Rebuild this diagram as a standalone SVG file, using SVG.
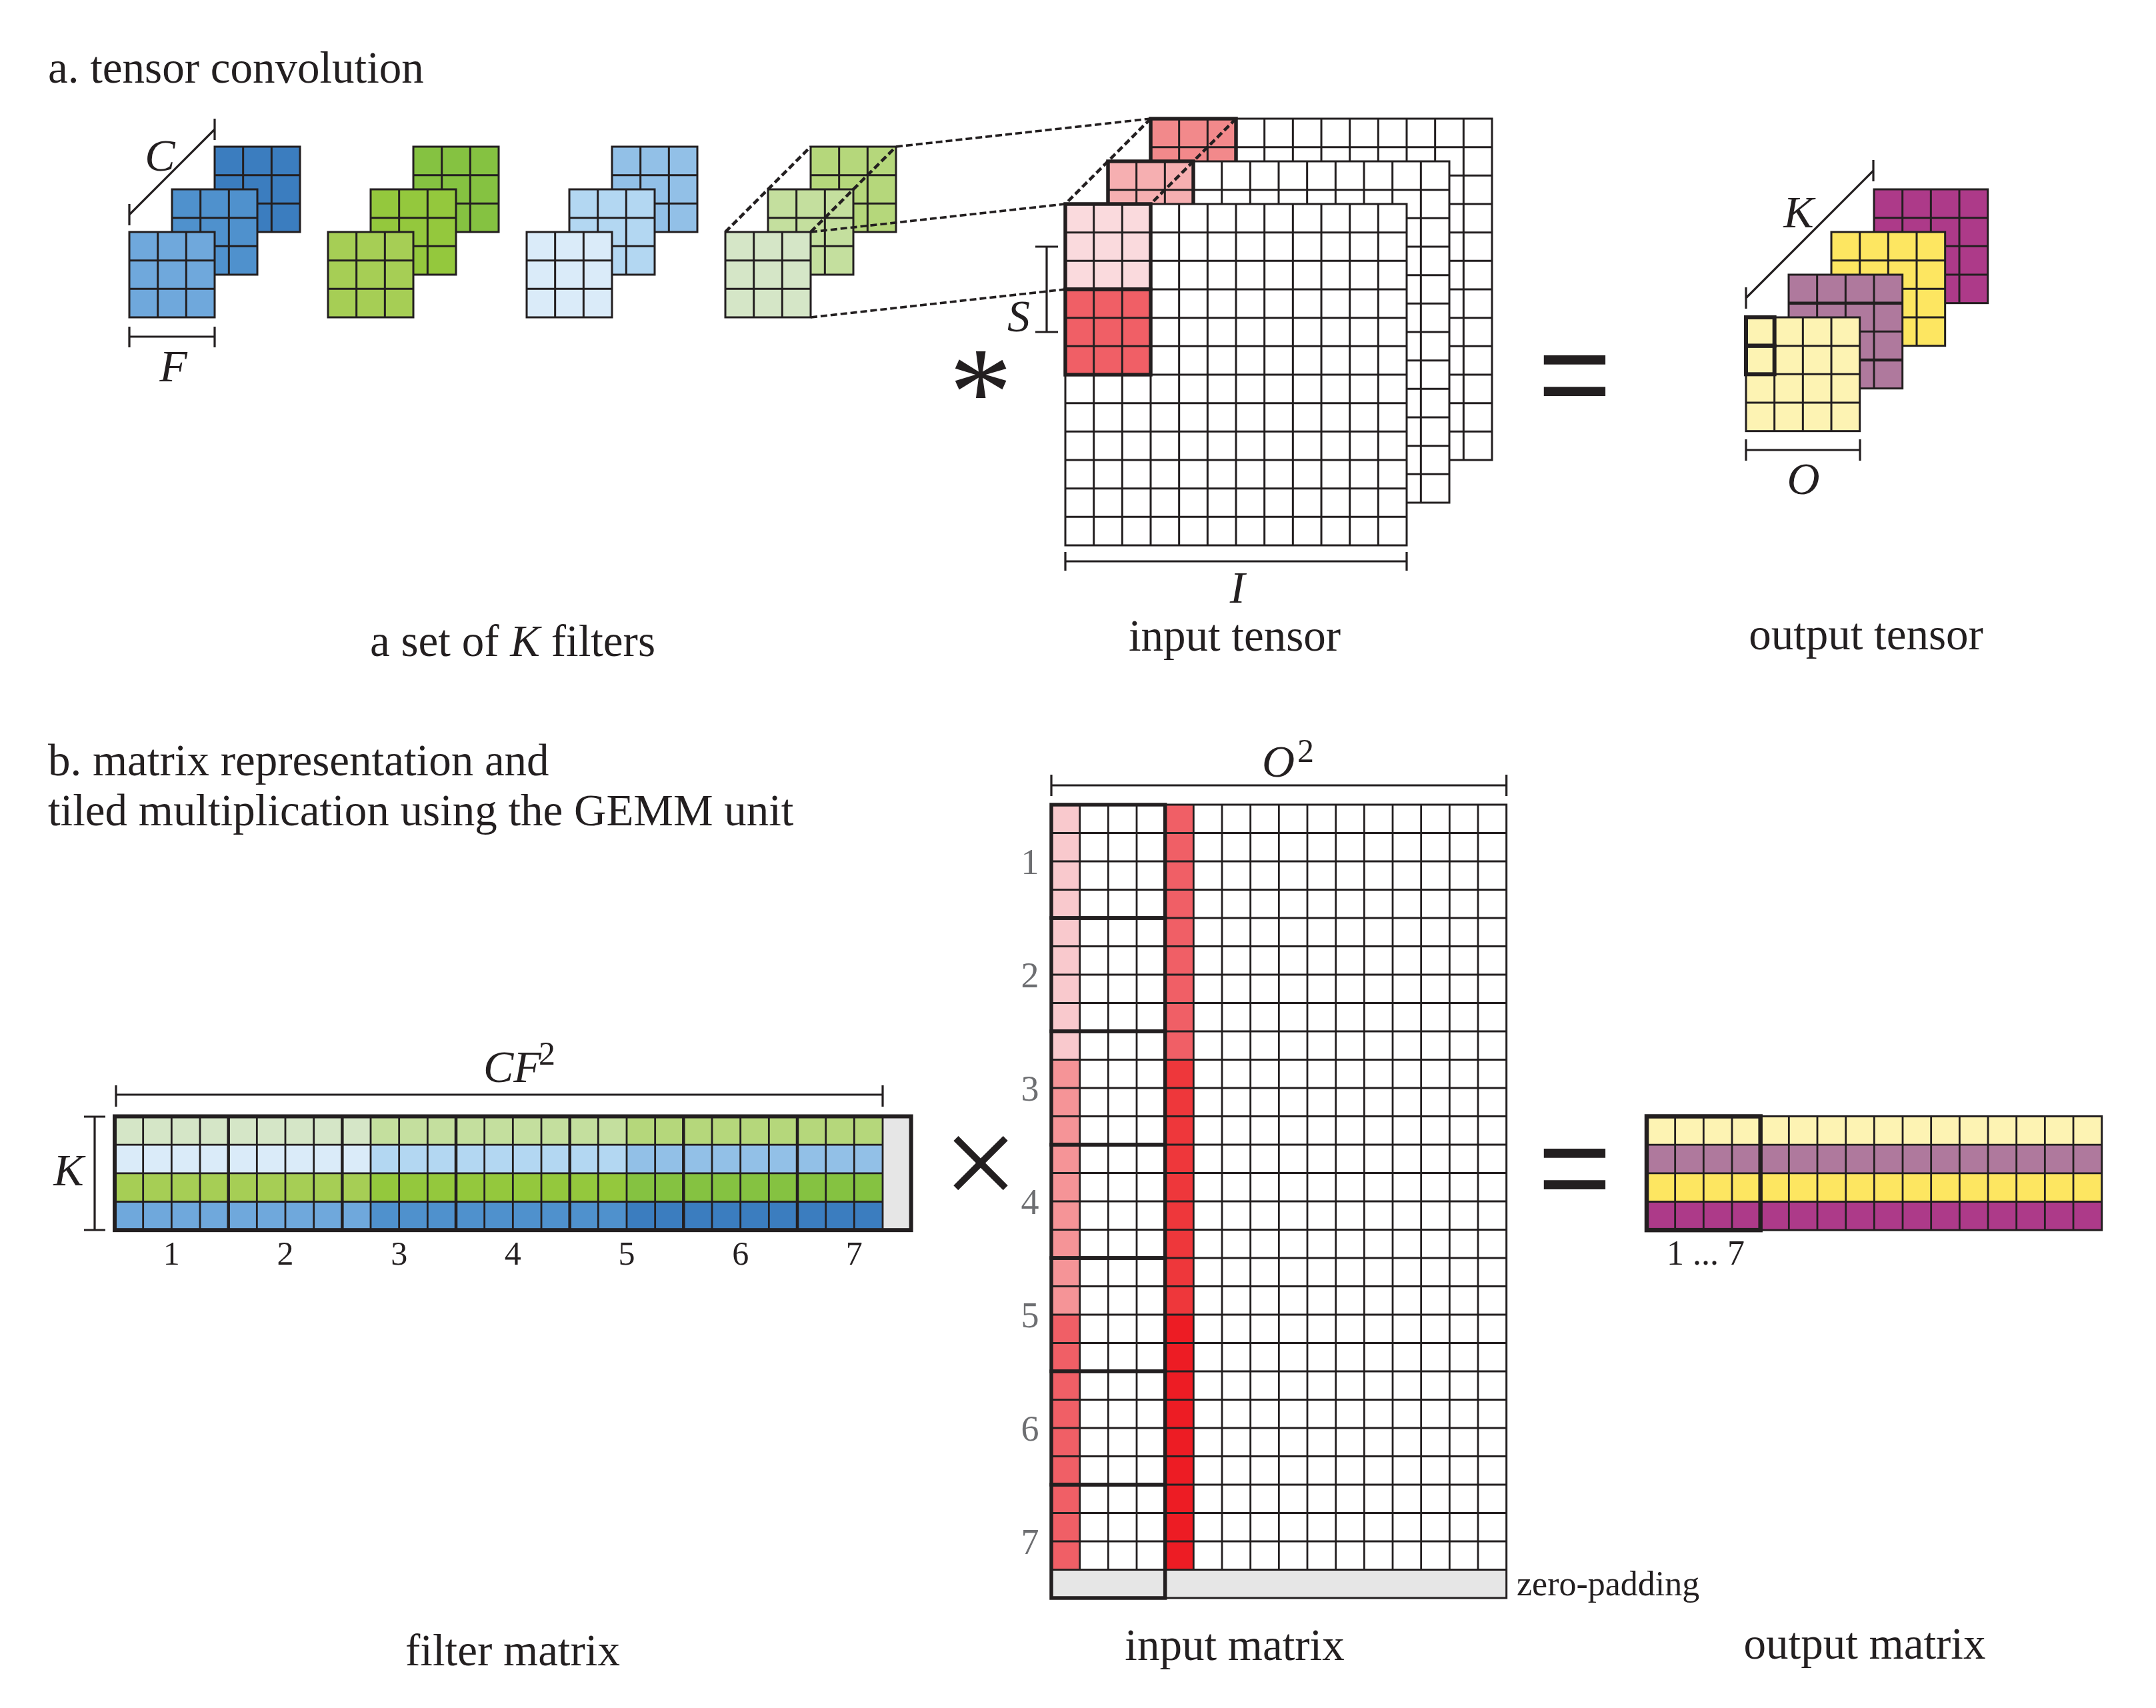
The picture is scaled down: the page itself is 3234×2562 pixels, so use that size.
<svg xmlns="http://www.w3.org/2000/svg" xmlns:xlink="http://www.w3.org/1999/xlink" width="3234" height="2562" viewBox="0 0 3234 2562">
<style>
.ln{stroke:#231f20;stroke-width:3;fill:none}
.lf{stroke:#231f20;stroke-width:3}
.tk{stroke:#231f20;stroke-width:5.5;fill:none}
.dm{stroke:#231f20;stroke-width:3.2;fill:none}
.ds{stroke:#231f20;stroke-width:4;fill:none;stroke-dasharray:10 5}
.t{font-family:"Liberation Serif","Times New Roman",serif;font-size:67px;fill:#231f20}
.it{font-style:italic;font-size:68px}
.sup{font-size:50px}
.num{font-family:"Liberation Serif","Times New Roman",serif;font-size:50px;fill:#231f20}
.rn{font-family:"Liberation Serif","Times New Roman",serif;font-size:54px;fill:#6d6e71}
.op{font-family:"Liberation Sans",Arial,sans-serif;font-size:190px;fill:#231f20}
</style>
<defs>
<path id="g3" d="M42.67 0V128M85.33 0V128M0 42.67H128M0 85.33H128"/>
<path id="g4" d="M42.67 0V170.67M85.33 0V170.67M128 0V170.67M0 42.67H170.67M0 85.33H170.67M0 128H170.67"/>
<path id="g12" d="M42.67 0V512M85.33 0V512M128 0V512M170.67 0V512M213.33 0V512M256 0V512M298.67 0V512M341.33 0V512M384 0V512M426.67 0V512M469.33 0V512M0 42.67H512M0 85.33H512M0 128H512M0 170.67H512M0 213.33H512M0 256H512M0 298.67H512M0 341.33H512M0 384H512M0 426.67H512M0 469.33H512"/>
</defs>
<rect width="3234" height="2562" fill="#ffffff"/>

<text class="t" x="72" y="124">a. tensor convolution</text>
<text class="t" x="72" y="1163">b. matrix representation and</text>
<text class="t" x="72" y="1238">tiled multiplication using the GEMM unit</text>

<!-- Filters -->
<g id="filter1">
<rect class="lf" x="322" y="220" width="128" height="128" fill="#3B7DBF"/><use href="#g3" x="322" y="220" class="ln"/>
<rect class="lf" x="258" y="284" width="128" height="128" fill="#4F91CD"/><use href="#g3" x="258" y="284" class="ln"/>
<rect class="lf" x="194" y="348" width="128" height="128" fill="#6FA8DC"/><use href="#g3" x="194" y="348" class="ln"/>
</g>
<g id="filter2">
<rect class="lf" x="620" y="220" width="128" height="128" fill="#85C241"/><use href="#g3" x="620" y="220" class="ln"/>
<rect class="lf" x="556" y="284" width="128" height="128" fill="#94C83D"/><use href="#g3" x="556" y="284" class="ln"/>
<rect class="lf" x="492" y="348" width="128" height="128" fill="#A6CE55"/><use href="#g3" x="492" y="348" class="ln"/>
</g>
<g id="filter3">
<rect class="lf" x="918" y="220" width="128" height="128" fill="#92C0E7"/><use href="#g3" x="918" y="220" class="ln"/>
<rect class="lf" x="854" y="284" width="128" height="128" fill="#B3D7F2"/><use href="#g3" x="854" y="284" class="ln"/>
<rect class="lf" x="790" y="348" width="128" height="128" fill="#DAEBF9"/><use href="#g3" x="790" y="348" class="ln"/>
</g>
<g id="filter4">
<rect class="lf" x="1216" y="220" width="128" height="128" fill="#B5D77B"/><use href="#g3" x="1216" y="220" class="ln"/>
<rect class="lf" x="1152" y="284" width="128" height="128" fill="#C4DF9E"/><use href="#g3" x="1152" y="284" class="ln"/>
<rect class="lf" x="1088" y="348" width="128" height="128" fill="#D5E6C7"/><use href="#g3" x="1088" y="348" class="ln"/>
</g>
<g id="dim-C-F">
<path class="dm" d="M194 322L322 194M194 306V338M322 178V210"/>
<text class="t it" x="240" y="256" text-anchor="middle">C</text>
<path class="dm" d="M194 505H322M194 490V521M322 490V521"/>
<text class="t it" x="260" y="572" text-anchor="middle">F</text>
</g>
<text class="t" x="769" y="984" text-anchor="middle">a set of <tspan font-style="italic">K</tspan> filters</text>

<!-- Input tensor -->
<g id="input-tensor">
<rect class="lf" x="1726" y="178" width="512" height="512" fill="#ffffff"/>
<rect x="1726" y="178" width="128" height="128" fill="#F2898B"/>
<use href="#g12" x="1726" y="178" class="ln"/>
<rect class="tk" x="1726" y="178" width="128" height="128"/>
<rect class="lf" x="1662" y="242" width="512" height="512" fill="#ffffff"/>
<rect x="1662" y="242" width="128" height="128" fill="#F6AFB1"/>
<use href="#g12" x="1662" y="242" class="ln"/>
<rect class="tk" x="1662" y="242" width="128" height="128"/>
<rect class="lf" x="1598" y="306" width="512" height="512" fill="#ffffff"/>
<rect x="1598" y="306" width="128" height="128" fill="#FADADD"/>
<rect x="1598" y="434" width="128" height="128" fill="#F05F66"/>
<use href="#g12" x="1598" y="306" class="ln"/>
<rect class="tk" x="1598" y="306" width="128" height="128"/>
<rect class="tk" x="1598" y="434" width="128" height="128"/>
</g>
<g id="dim-S-I">
<path class="dm" d="M1570 370V498M1553 370H1587M1553 498H1587"/>
<text class="t it" x="1528" y="497" text-anchor="middle">S</text>
<path class="dm" d="M1598 842H2110M1598 828V856M2110 828V856"/>
<text class="t it" x="1856" y="904" text-anchor="middle">I</text>
</g>
<text class="t" x="1471" y="652" style="font-size:190px" text-anchor="middle">*</text>
<text class="t" x="1852" y="976" text-anchor="middle">input tensor</text>

<text class="op" x="2362" y="626" text-anchor="middle">=</text>

<!-- Output tensor -->
<g id="output-tensor">
<rect class="lf" x="2811" y="284" width="170.67" height="170.67" fill="#AD3A89"/><use href="#g4" x="2811" y="284" class="ln"/>
<rect class="lf" x="2747" y="348" width="170.67" height="170.67" fill="#FDE661"/><use href="#g4" x="2747" y="348" class="ln"/>
<rect class="lf" x="2683" y="412" width="170.67" height="170.67" fill="#AF799D"/><use href="#g4" x="2683" y="412" class="ln"/>
<path class="ln" d="M2683 454.67H2853.67M2683 540H2853.67" style="stroke-width:4.5"/>
<rect class="lf" x="2619" y="476" width="170.67" height="170.67" fill="#FDF3B3"/><use href="#g4" x="2619" y="476" class="ln"/>
<rect class="tk" x="2619" y="476" width="42.67" height="42.67" style="stroke-width:6"/>
<rect class="tk" x="2619" y="518.67" width="42.67" height="42.67" style="stroke-width:6"/>
</g>
<g id="dim-K-O">
<path class="dm" d="M2619 447L2810 256M2619 431V463M2810 240V272"/>
<text class="t it" x="2698" y="341" text-anchor="middle">K</text>
<path class="dm" d="M2619 675H2790M2619 659V691M2790 659V691"/>
<text class="t it" x="2705" y="741" text-anchor="middle">O</text>
</g>
<text class="t" x="2799" y="974" text-anchor="middle">output tensor</text>

<!-- Connectors (dashed projection lines) -->
<g id="connectors">
<path class="ds" d="M1088 348L1216 220M1216 348L1344 220" style="stroke-width:4.5"/>
<path class="ds" d="M1344 220L1726 178M1216 348L1598 306M1216 476L1598 434" style="stroke-width:3.6"/>
<path class="ds" d="M1726 178L1598 306M1854 178L1726 306" style="stroke-width:4.5"/>
</g>

<!-- Filter matrix -->
<g id="filter-matrix">
<rect x="172" y="1674.5" width="384" height="42.67" fill="#D5E6C7"/>
<rect x="556" y="1674.5" width="384" height="42.67" fill="#C4DF9E"/>
<rect x="940" y="1674.5" width="384" height="42.67" fill="#B5D77B"/>
<rect x="172" y="1717.17" width="384" height="42.67" fill="#DAEBF9"/>
<rect x="556" y="1717.17" width="384" height="42.67" fill="#B3D7F2"/>
<rect x="940" y="1717.17" width="384" height="42.67" fill="#92C0E7"/>
<rect x="172" y="1759.83" width="384" height="42.67" fill="#A6CE55"/>
<rect x="556" y="1759.83" width="384" height="42.67" fill="#94C83D"/>
<rect x="940" y="1759.83" width="384" height="42.67" fill="#85C241"/>
<rect x="172" y="1802.5" width="384" height="42.67" fill="#6FA8DC"/>
<rect x="556" y="1802.5" width="384" height="42.67" fill="#4F91CD"/>
<rect x="940" y="1802.5" width="384" height="42.67" fill="#3B7DBF"/>
<rect x="1324" y="1674.5" width="42.67" height="170.67" fill="#E6E6E6"/>
<path class="ln" style="stroke-width:2.8" d="M172 1717.17H1324M172 1759.83H1324M172 1802.5H1324M214.67 1674.5V1845.17M257.33 1674.5V1845.17M300 1674.5V1845.17M385.33 1674.5V1845.17M428 1674.5V1845.17M470.67 1674.5V1845.17M556 1674.5V1845.17M598.67 1674.5V1845.17M641.33 1674.5V1845.17M726.67 1674.5V1845.17M769.33 1674.5V1845.17M812 1674.5V1845.17M897.33 1674.5V1845.17M940 1674.5V1845.17M982.67 1674.5V1845.17M1068 1674.5V1845.17M1110.67 1674.5V1845.17M1153.33 1674.5V1845.17M1238.67 1674.5V1845.17M1281.33 1674.5V1845.17M1324 1674.5V1845.17"/>
<path class="ln" style="stroke-width:4.5" d="M342.67 1674.5V1845.17M513.33 1674.5V1845.17M684 1674.5V1845.17M854.67 1674.5V1845.17M1025.33 1674.5V1845.17M1196 1674.5V1845.17"/>
<rect class="tk" x="172" y="1674.5" width="1194.67" height="170.67" style="stroke-width:6"/>
</g>
<g id="dim-CF2-K">
<path class="dm" d="M174 1642H1324M174 1628V1660M1324 1628V1660"/>
<text class="t it" x="725" y="1623">CF</text>
<text class="t sup" x="808" y="1597">2</text>
<path class="dm" d="M142 1675V1845M126 1675H158M126 1845H158"/>
<text class="t it" x="103" y="1778" text-anchor="middle">K</text>
</g>
<g id="filter-matrix-labels" class="num" text-anchor="middle">
<text x="257.3" y="1897">1</text>
<text x="428" y="1897">2</text>
<text x="598.7" y="1897">3</text>
<text x="769.3" y="1897">4</text>
<text x="940" y="1897">5</text>
<text x="1110.7" y="1897">6</text>
<text x="1281.3" y="1897">7</text>
</g>
<text class="t" x="769" y="2498" text-anchor="middle">filter matrix</text>

<text class="t" x="1471" y="1811" style="font-size:200px" text-anchor="middle">×</text>

<!-- Input matrix -->
<g id="input-matrix">
<rect x="1577" y="1207" width="682.67" height="1190" fill="#ffffff"/>
<rect x="1577" y="1207" width="42.67" height="382.5" fill="#F9C9CD"/>
<rect x="1577" y="1589.5" width="42.67" height="382.5" fill="#F59497"/>
<rect x="1577" y="1972" width="42.67" height="382.5" fill="#F05F66"/>
<rect x="1747.67" y="1207" width="42.67" height="382.5" fill="#F05F66"/>
<rect x="1747.67" y="1589.5" width="42.67" height="382.5" fill="#EE373B"/>
<rect x="1747.67" y="1972" width="42.67" height="382.5" fill="#ED1C24"/>
<rect x="1577" y="2354.5" width="682.67" height="42.5" fill="#E6E6E6"/>
<path class="ln" style="stroke-width:2.8" d="M1577 1249.5H2259.67M1577 1292H2259.67M1577 1334.5H2259.67M1577 1377H2259.67M1577 1419.5H2259.67M1577 1462H2259.67M1577 1504.5H2259.67M1577 1547H2259.67M1577 1589.5H2259.67M1577 1632H2259.67M1577 1674.5H2259.67M1577 1717H2259.67M1577 1759.5H2259.67M1577 1802H2259.67M1577 1844.5H2259.67M1577 1887H2259.67M1577 1929.5H2259.67M1577 1972H2259.67M1577 2014.5H2259.67M1577 2057H2259.67M1577 2099.5H2259.67M1577 2142H2259.67M1577 2184.5H2259.67M1577 2227H2259.67M1577 2269.5H2259.67M1577 2312H2259.67M1577 2354.5H2259.67M1619.67 1207V2354.5M1662.33 1207V2354.5M1705 1207V2354.5M1790.33 1207V2354.5M1833 1207V2354.5M1875.67 1207V2354.5M1918.33 1207V2354.5M1961 1207V2354.5M2003.67 1207V2354.5M2046.33 1207V2354.5M2089 1207V2354.5M2131.67 1207V2354.5M2174.33 1207V2354.5M2217 1207V2354.5"/>
<rect class="ln" x="1577" y="1207" width="682.67" height="1190"/>
<g class="tk">
<rect x="1577" y="1207" width="170.67" height="170"/>
<rect x="1577" y="1377" width="170.67" height="170"/>
<rect x="1577" y="1547" width="170.67" height="170"/>
<rect x="1577" y="1717" width="170.67" height="170"/>
<rect x="1577" y="1887" width="170.67" height="170"/>
<rect x="1577" y="2057" width="170.67" height="170"/>
<rect x="1577" y="2227" width="170.67" height="170"/>
</g>
</g>
<g id="input-matrix-labels" class="rn" text-anchor="middle">
<text x="1545" y="1311">1</text>
<text x="1545" y="1481">2</text>
<text x="1545" y="1651">3</text>
<text x="1545" y="1821">4</text>
<text x="1545" y="1991">5</text>
<text x="1545" y="2161">6</text>
<text x="1545" y="2331">7</text>
</g>
<g id="dim-O2">
<path class="dm" d="M1577 1178H2259.67M1577 1162V1194M2259.67 1162V1194"/>
<text class="t it" x="1893" y="1165">O</text>
<text class="t sup" x="1946" y="1143">2</text>
</g>
<text class="t" x="2275" y="2393" style="font-size:52px">zero-padding</text>
<text class="t" x="1852" y="2490" text-anchor="middle">input matrix</text>

<text class="op" x="2362" y="1816" text-anchor="middle">=</text>

<!-- Output matrix -->
<g id="output-matrix">
<rect x="2470" y="1674.5" width="682.67" height="42.67" fill="#FDF3B3"/>
<rect x="2470" y="1717.17" width="682.67" height="42.67" fill="#AF799D"/>
<rect x="2470" y="1759.83" width="682.67" height="42.67" fill="#FDE661"/>
<rect x="2470" y="1802.5" width="682.67" height="42.67" fill="#AD3A89"/>
<path class="ln" style="stroke-width:2.8" d="M2470 1717.17H3152.67M2470 1759.83H3152.67M2470 1802.5H3152.67M2512.67 1674.5V1845.17M2555.33 1674.5V1845.17M2598 1674.5V1845.17M2640.67 1674.5V1845.17M2683.33 1674.5V1845.17M2726 1674.5V1845.17M2768.67 1674.5V1845.17M2811.33 1674.5V1845.17M2854 1674.5V1845.17M2896.67 1674.5V1845.17M2939.33 1674.5V1845.17M2982 1674.5V1845.17M3024.67 1674.5V1845.17M3067.33 1674.5V1845.17M3110 1674.5V1845.17"/>
<rect class="ln" x="2470" y="1674.5" width="682.67" height="170.67"/>
<rect class="tk" x="2470" y="1674.5" width="170.67" height="170.67" style="stroke-width:6.5"/>
</g>
<text class="num" x="2500" y="1897" style="font-size:52px">1 ... 7</text>
<text class="t" x="2797" y="2488" text-anchor="middle">output matrix</text>
</svg>
